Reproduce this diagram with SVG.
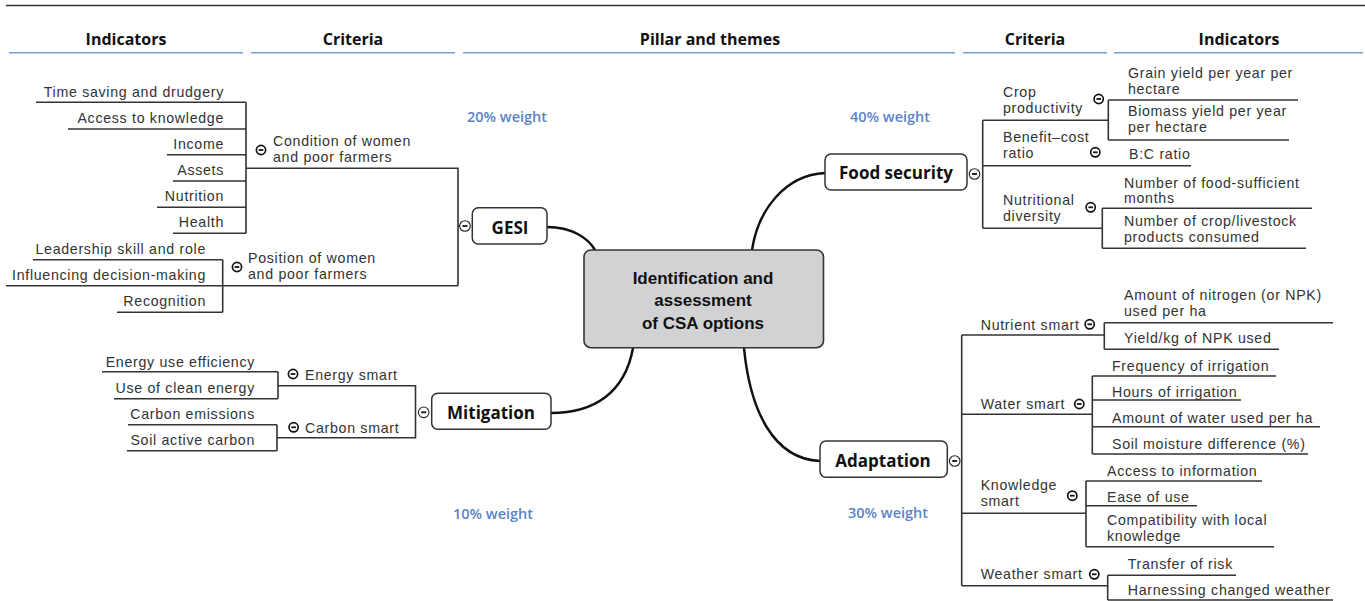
<svg xmlns="http://www.w3.org/2000/svg" width="1365" height="601" viewBox="0 0 1365 601">
<style>
.t{font-family:"Liberation Sans",Arial,sans-serif;font-size:14.2px;letter-spacing:0.7px;fill:#333}
.e{text-anchor:end}
.h{font-family:"Open Sans","Liberation Sans",sans-serif;font-size:16px;font-weight:bold;fill:#111;text-anchor:middle}
.n{font-family:"Open Sans","Liberation Sans",sans-serif;font-size:17px;font-weight:bold;fill:#111;text-anchor:middle}
.c{font-family:"Liberation Sans",Arial,sans-serif;font-size:17px;font-weight:bold;fill:#111;text-anchor:middle}
.w{font-family:"Open Sans","Liberation Sans",sans-serif;font-size:14.5px;font-weight:600;fill:#5b84c8;text-anchor:middle}
.box{fill:#fff;stroke:#333;stroke-width:1.5}
.ln{fill:none;stroke:#333;stroke-width:1.6}
.cv{fill:none;stroke:#111;stroke-width:2.5}
.ul{stroke:#7b9bd5;stroke-width:1.6}
</style>
<defs>
<g id="tog"><circle r="4.6" fill="#fff" stroke="#111" stroke-width="1.7"/><line x1="-2.3" x2="2.3" stroke="#111" stroke-width="1.8"/></g>
<g id="tog2"><circle r="5.3" fill="#fff" stroke="#222" stroke-width="1.1"/><line x1="-2.5" x2="2.5" stroke="#111" stroke-width="1.8"/></g>
</defs>
<rect width="1365" height="601" fill="#fff"/>
<line x1="6" y1="5.5" x2="1365" y2="5.5" stroke="#333" stroke-width="1.6"/>
<g id="header">
<text class="h" x="126" y="45">Indicators</text>
<text class="h" x="353" y="45">Criteria</text>
<text class="h" x="710" y="45">Pillar and themes</text>
<text class="h" x="1035" y="45">Criteria</text>
<text class="h" x="1239" y="45">Indicators</text>
<line class="ul" x1="9" y1="52.7" x2="243" y2="52.7"/>
<line class="ul" x1="251" y1="52.7" x2="455" y2="52.7"/>
<line class="ul" x1="463" y1="52.7" x2="955" y2="52.7"/>
<line class="ul" x1="963" y1="52.7" x2="1107" y2="52.7"/>
<line class="ul" x1="1114" y1="52.7" x2="1363" y2="52.7"/>
</g>
<g id="weights">
<text class="w" x="507" y="122">20% weight</text>
<text class="w" x="890" y="122">40% weight</text>
<text class="w" x="493" y="519">10% weight</text>
<text class="w" x="888" y="518">30% weight</text>
</g>
<g id="connectors">
<path class="cv" d="M547,227 C572,227 588,238 595,250"/>
<path class="cv" d="M825,173 C785,175 758,210 752,250"/>
<path class="cv" d="M633,348 C625,392 595,413 551,413"/>
<path class="cv" d="M744,348 C750,410 773,459 820,461"/>
<path class="ln" d="M36,102.3H246M68,129H246M167,154.7H246M173,181H246M157,207.3H246M173,233.3H246M246,102.3V233.3"/>
<path class="ln" d="M246,168.3H458V285.7M33,259.7H222.7M6,285.7H458M117,312.3H222.7M222.7,259.7V312.3"/>
<path class="ln" d="M458,226H466"/>
<path class="ln" d="M102,371.7H278M114,398.7H278M278,371.7V398.7M278,385.7H415.5V437.7H277M128,424.7H277M127,450.7H277M277,424.7V450.7"/>
<path class="ln" d="M982.7,120.3V228.3M982.7,120.3H1108.3M1108.3,100V140M1108.3,100H1298M1108.3,140H1289M982.7,165.7H1191M982.7,228.3H1102.3M1102.3,208.3V248.3M1102.3,208.3H1312M1102.3,248.3H1306"/>
<path class="ln" d="M961.7,335V585.7M961.7,335H1104.3M1104.3,322.7V349.3M1104.3,322.7H1333M1104.3,349.3H1279M961.7,414.3H1092.3M1092.3,376V454M1092.3,376H1276M1092.3,400H1241M1092.3,426.7H1320M1092.3,454H1308M961.7,513.3H1086M1086,481V546.7M1086,481H1262M1086,505.7H1197M1086,546.7H1274M961.7,585.7H1107.7M1107.7,575.3V600M1107.7,575.3H1236M1107.7,600H1333"/>
</g>
<g id="center">
<rect x="584" y="250" width="239.5" height="97.7" rx="7" fill="#d1d2d4" stroke="#333" stroke-width="1.6"/>
<text class="c" x="703" y="284">Identification and</text>
<text class="c" x="703" y="306">assessment</text>
<text class="c" x="703" y="328.5">of CSA options</text>
</g>
<g id="gesi">
<rect class="box" x="472.3" y="207.7" width="74.7" height="36.3" rx="6"/>
<text class="n" x="510" y="233.5">GESI</text>
<use href="#tog2" x="465" y="226"/>
</g>
<g id="food-security">
<rect class="box" x="825" y="154" width="142" height="36" rx="6"/>
<text class="n" x="896" y="179">Food security</text>
<use href="#tog2" x="974.5" y="174"/>
</g>
<g id="mitigation">
<rect class="box" x="431.7" y="393.3" width="119.3" height="36" rx="6"/>
<text class="n" x="491" y="418.5">Mitigation</text>
<use href="#tog2" x="423.7" y="412.3"/>
</g>
<g id="adaptation">
<rect class="box" x="820" y="441" width="127.3" height="36.3" rx="6"/>
<text class="n" x="883" y="466.5">Adaptation</text>
<use href="#tog2" x="954.7" y="461"/>
</g>
<g id="gesi-criteria">
<use href="#tog" x="261" y="150"/>
<text class="t" x="273" y="146">Condition of women</text>
<text class="t" x="273" y="162">and poor farmers</text>
<use href="#tog" x="237" y="267"/>
<text class="t" x="248" y="263">Position of women</text>
<text class="t" x="248" y="279">and poor farmers</text>
</g>
<g id="gesi-indicators">
<text class="t e" x="224" y="97">Time saving and drudgery</text>
<text class="t e" x="224" y="123">Access to knowledge</text>
<text class="t e" x="224" y="149">Income</text>
<text class="t e" x="224" y="175">Assets</text>
<text class="t e" x="224" y="201">Nutrition</text>
<text class="t e" x="224" y="227">Health</text>
<text class="t e" x="206" y="254">Leadership skill and role</text>
<text class="t e" x="206" y="280">Influencing decision-making</text>
<text class="t e" x="206" y="306">Recognition</text>
</g>
<g id="mitigation-criteria">
<use href="#tog" x="293" y="374"/>
<text class="t" x="305" y="380">Energy smart</text>
<use href="#tog" x="293.6" y="427.3"/>
<text class="t" x="305" y="433">Carbon smart</text>
</g>
<g id="mitigation-indicators">
<text class="t e" x="255" y="367">Energy use efficiency</text>
<text class="t e" x="255" y="393">Use of clean energy</text>
<text class="t e" x="255" y="419">Carbon emissions</text>
<text class="t e" x="255" y="445">Soil active carbon</text>
</g>
<g id="food-criteria">
<text class="t" x="1003" y="97">Crop</text>
<text class="t" x="1003" y="113">productivity</text>
<use href="#tog" x="1098.7" y="99"/>
<text class="t" x="1003" y="142">Benefit–cost</text>
<text class="t" x="1003" y="158">ratio</text>
<use href="#tog" x="1095.3" y="152.3"/>
<text class="t" x="1003" y="205">Nutritional</text>
<text class="t" x="1003" y="221">diversity</text>
<use href="#tog" x="1090.7" y="207.3"/>
</g>
<g id="food-indicators">
<text class="t" x="1128" y="77.5">Grain yield per year per</text>
<text class="t" x="1128" y="93.5">hectare</text>
<text class="t" x="1128" y="116">Biomass yield per year</text>
<text class="t" x="1128" y="132">per hectare</text>
<text class="t" x="1129" y="158.5">B:C ratio</text>
<text class="t" x="1124" y="187.5">Number of food-sufficient</text>
<text class="t" x="1124" y="203">months</text>
<text class="t" x="1124" y="226">Number of crop/livestock</text>
<text class="t" x="1124" y="242">products consumed</text>
</g>
<g id="adaptation-criteria">
<text class="t" x="980.7" y="330">Nutrient smart</text>
<use href="#tog" x="1089.7" y="324.3"/>
<text class="t" x="980.7" y="408.5">Water smart</text>
<use href="#tog" x="1079.3" y="404"/>
<text class="t" x="980.7" y="490">Knowledge</text>
<text class="t" x="980.7" y="506">smart</text>
<use href="#tog" x="1072.3" y="495.7"/>
<text class="t" x="980.7" y="579">Weather smart</text>
<use href="#tog" x="1094.3" y="574.3"/>
</g>
<g id="adaptation-indicators">
<text class="t" x="1124" y="300">Amount of nitrogen (or NPK)</text>
<text class="t" x="1124" y="316">used per ha</text>
<text class="t" x="1124" y="343">Yield/kg of NPK used</text>
<text class="t" x="1112" y="371">Frequency of irrigation</text>
<text class="t" x="1112" y="397">Hours of irrigation</text>
<text class="t" x="1112" y="423">Amount of water used per ha</text>
<text class="t" x="1112" y="448.5">Soil moisture difference (%)</text>
<text class="t" x="1107" y="476">Access to information</text>
<text class="t" x="1107" y="502">Ease of use</text>
<text class="t" x="1107" y="525">Compatibility with local</text>
<text class="t" x="1107" y="541">knowledge</text>
<text class="t" x="1127.7" y="568.5">Transfer of risk</text>
<text class="t" x="1127.7" y="595">Harnessing changed weather</text>
</g>
</svg>
